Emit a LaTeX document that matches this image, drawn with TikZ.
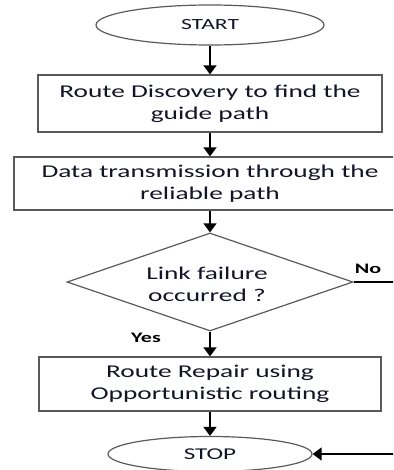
\documentclass[tikz,border=0pt]{standalone}
\usepackage{fontspec}
\setmainfont{Carlito}[FakeStretch=1.52]
\usetikzlibrary{shapes.geometric,arrows.meta}
\definecolor{boxgray}{HTML}{5A5A5A}
\definecolor{txt}{HTML}{141428}
\begin{document}
\begin{tikzpicture}[x=1pt,y=-1pt,
  box/.style={draw=boxgray, line width=1.2pt, fill=white, align=center, text=txt,
    font=\fontsize{18}{22}\selectfont, inner sep=0pt},
  oval/.style={ellipse, draw=boxgray, line width=1.2pt, inner sep=0pt, text=txt,
    font=\fontsize{15.5}{18}\selectfont},
  conn/.style={draw=black, line width=1.4pt, -{Triangle[width=13pt,length=9pt]}},
  lbl/.style={font=\bfseries\fontsize{14.5}{17}\selectfont, text=black}]
\clip (0,0) rectangle (393,470);
\node[oval, minimum width=228pt, minimum height=40pt] (start) at (210,25) {START};
\node[box, minimum width=344pt, minimum height=57pt] (b1) at (210,103.5) {Route Discovery to find the\\guide path};
\node[box, minimum width=392pt, minimum height=53pt] (b2) at (210,183.5) {Data transmission through the\\reliable path};
\node[diamond, draw=boxgray, line width=1.2pt, minimum width=286pt, minimum height=98pt,
  inner sep=0pt] (dec) at (210,282) {};
\node[align=center, text=txt, font=\fontsize{18}{22}\selectfont, inner sep=0pt] (dectext) at (207,284) {Link failure\\occurred ?};
\node[box, minimum width=342pt, minimum height=54pt] (b3) at (210,384) {Route Repair using\\Opportunistic routing};
\node[oval, minimum width=204pt, minimum height=35pt, font=\fontsize{16.5}{19}\selectfont] (stop) at (210,454) {STOP};
\node[lbl] (yes) at (146,338) {Yes};
\node[lbl] (no) at (368,269) {No};
\coordinate (rt) at (412,282);
\draw[conn] (start) -- (b1);
\draw[conn] (b1) -- (b2);
\draw[conn] (b2) -- (dec);
\draw[conn] (dec) -- (b3);
\draw[conn] (b3) -- (stop);
\draw[conn] (dec.east) -- (rt) |- (stop.east);
\end{tikzpicture}
\end{document}
